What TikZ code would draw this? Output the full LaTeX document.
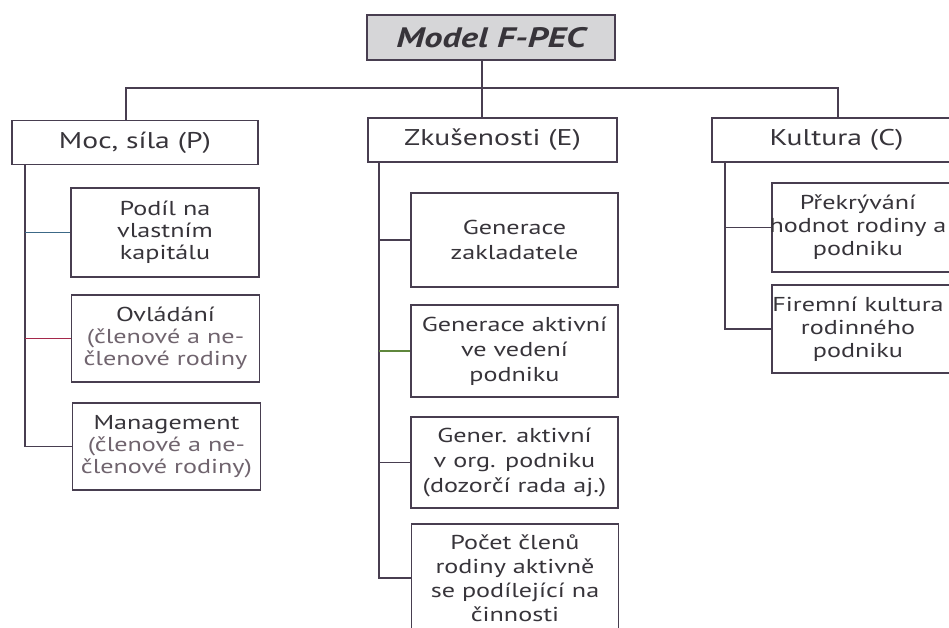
\documentclass[tikz,border=0pt]{standalone}
\usepackage{fontspec}
\setmainfont{PT Sans}[FakeStretch=1.3]
\usepackage{tikz}
\definecolor{linec}{RGB}{72, 62, 80}
\definecolor{textc}{RGB}{55, 52, 58}
\definecolor{softc}{RGB}{112, 100, 110}
\definecolor{bluec}{RGB}{60, 105, 135}
\definecolor{redc}{RGB}{165, 40, 75}
\definecolor{greenc}{RGB}{95, 135, 60}
\definecolor{titlefill}{RGB}{214, 214, 216}

\begin{document}
\begin{tikzpicture}[x=0.025cm, y=-0.025cm,
    title/.style={draw=linec, fill=titlefill, line width=1.3pt,
      minimum width=6.2cm, minimum height=1.125cm, text=textc,
      font=\fontsize{20}{24}\selectfont\bfseries\itshape},
    head/.style={draw=linec, line width=1.3pt, minimum height=1.1cm,
      text=textc, font=\fontsize{16.2}{20}\selectfont},
    child/.style={draw=linec, line width=1.3pt, align=center, text=textc,
      inner sep=0pt, font=\fontsize{14.3}{15.6}\selectfont},
    link/.style={draw=linec, line width=1.3pt}]

  \useasboundingbox (0, 0) rectangle (949, 628);
  \clip (0, 0) rectangle (949, 628);

  % Title and main branches
  \node[title] (model) at (491, 37.5) {Model F-PEC};
  \node[head, minimum width=6.15cm]  (moc)  at (135, 142.5)  {Moc, síla (P)};
  \node[head, minimum width=6.225cm] (zkus) at (492.5, 140)  {Zkušenosti (E)};
  \node[head, minimum width=6.225cm] (kult) at (836.5, 140)  {Kultura (C)};

  \coordinate (busl) at (126, 88);
  \coordinate (busm) at (482, 88);
  \coordinate (busr) at (838, 88);
  \draw[link] (moc.north -| busl) -- (busl) -- (busr) -- (kult.north -| busr);
  \draw[link] (model.south -| busm) -- (zkus.north -| busm);

  % Power (P)
  \node[child, minimum width=4.7cm, minimum height=2.225cm] (podil) at (165, 232.5)
    {Podíl na\\vlastním\\kapitálu};
  \node[child, minimum width=4.7cm, minimum height=2.175cm] (ovlad) at (165.5, 338.5)
    {Ovládání\\\textcolor{softc}{(členové a ne-}\\\textcolor{softc}{členové rodiny}};
  \node[child, minimum width=4.7cm, minimum height=2.175cm] (mgmt) at (166.5, 446.5)
    {Management\\\textcolor{softc}{(členové a ne-}\\\textcolor{softc}{členové rodiny)}};

  \coordinate (pspine) at (25, 0);
  \draw[link] (moc.south -| pspine) |- (mgmt.west);
  \draw[link, bluec] (podil.west -| pspine) -- (podil.west);
  \draw[link, redc]  (ovlad.west -| pspine) -- (ovlad.west);

  % Experience (E)
  \begin{scope}[child/.append style={minimum width=5.175cm,
      font=\fontsize{14.3}{17.8}\selectfont}]
    \node[child, minimum height=2.35cm]  (genzak) at (514.5, 240)   {Generace\\zakladatele};
    \node[child, minimum height=2.3cm]   (genved) at (514.5, 351)   {Generace aktivní\\ve vedení\\podniku};
    \node[child, minimum height=2.275cm] (genorg) at (514.5, 462.5) {Gener. aktivní\\v org. podniku\\(dozorčí rada aj.)};
    \node[child, minimum height=2.7cm, font=\fontsize{14.3}{17}\selectfont]
      (pocet) at (515, 578) {Počet členů\\rodiny aktivně\\se podílející na\\činnosti};
  \end{scope}

  \coordinate (espine) at (379, 0);
  \draw[link] (zkus.south -| espine) |- (pocet.west);
  \foreach \n in {genzak, genorg} {
    \draw[link] (\n.west -| espine) -- (\n.west);
  }
  \draw[link, greenc] (genved.west -| espine) -- (genved.west);

  % Culture (C)
  \node[draw=linec, line width=1.3pt, minimum width=5.45cm, minimum height=2.225cm]
    (prekrbox) at (881, 227.5) {};
  \node[draw=linec, line width=1.3pt, minimum width=5.45cm, minimum height=2.2cm]
    (firembox) at (881, 329) {};
  \node[align=center, text=textc, font=\fontsize{14.3}{16.3}\selectfont] (prekr) at (858, 227.5)
    {Překrývání\\hodnot rodiny a\\podniku};
  \node[align=center, text=textc, font=\fontsize{14.3}{16.3}\selectfont] (firem) at (858, 329)
    {Firemní kultura\\rodinného\\podniku};

  \coordinate (cspine) at (725, 0);
  \draw[link] (kult.south -| cspine) |- (firembox.west);
  \draw[link] (prekrbox.west -| cspine) -- (prekrbox.west);

\end{tikzpicture}
\end{document}
